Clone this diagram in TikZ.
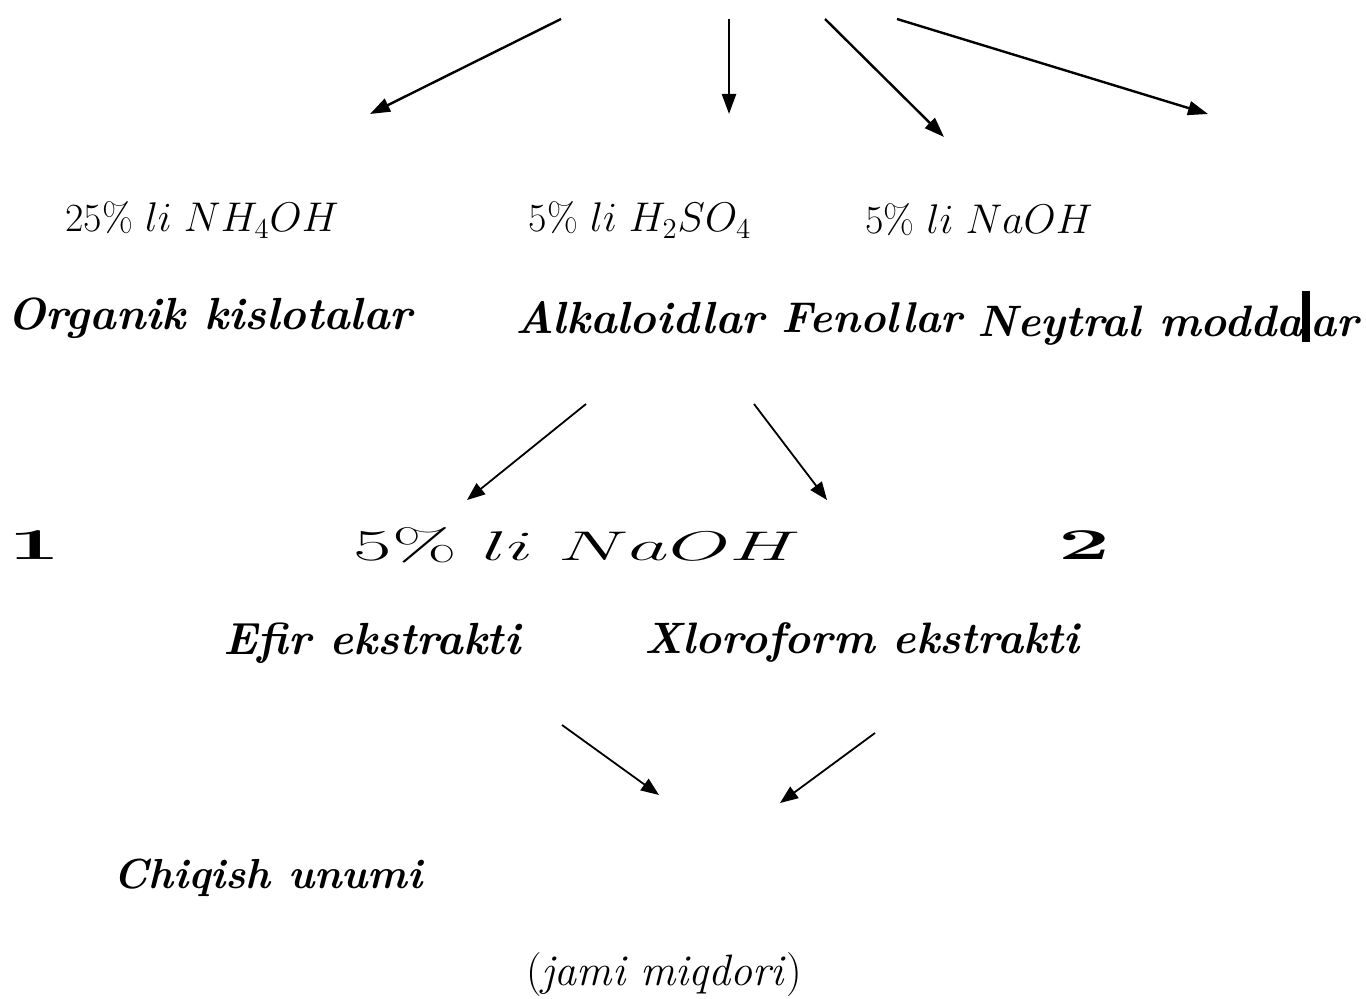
\documentclass[tikz,border=0pt]{standalone}
\usetikzlibrary{arrows.meta}
\tikzset{
	reagent/.style={inner sep=0pt,font=\fontsize{20}{24}\selectfont},
	group/.style={inner sep=0pt,font=\fontsize{22.5}{27}\selectfont\bfseries\itshape},
	big/.style={inner sep=0pt,font=\fontsize{22}{26}\selectfont},
	flow/.style={-{Triangle[length=10pt,width=7pt]},line width=1.2pt},
	thinflow/.style={-{Triangle[length=9pt,width=7pt]},line width=0.9pt}
}
\begin{document}
\begin{tikzpicture}[x=0.5pt,y=-0.5pt]
		\useasboundingbox (0,0) rectangle (1366,999);
		% top fan of arrows
		\coordinate (t1) at (561,19);
		\coordinate (t2) at (729,19);
		\coordinate (t3) at (825,19);
		\coordinate (t4) at (897,19);
		\coordinate (h1) at (370,114);
		\coordinate (h2) at (729,114);
		\coordinate (h3) at (944,137);
		\coordinate (h4) at (1208,114);
		\draw[flow] (t1) -- (h1);
		\draw[flow] (t2) -- (h2);
		\draw[flow] (t3) -- (h3);
		\draw[flow] (t4) -- (h4);
		\node[reagent] (nh) at (202,220) {25\% $li\ NH_4OH$};
		\node[reagent] (hs) at (640,220) {5\% $li\ H_2SO_4$};
		\node[reagent] (na) at (979,220) {5\% $li\ NaOH$};
		\node[group] (org) at (210,318) {Organik kislotalar};
		\node[group] (alk) at (640,318) {Alkaloidlar};
		\node[group,font=\fontsize{21.5}{26}\selectfont\bfseries\itshape] (fen) at (872,318) {Fenollar};
		\node[group,font=\fontsize{22}{26}\selectfont\bfseries\itshape] (ney) at (1168,318) {Neytral modda\rule[-0.3ex]{4pt}{2.6ex}ar};
		% alkaloid split
		\coordinate (s1) at (586,404);
		\coordinate (s2) at (754,404);
		\coordinate (e1) at (467,500);
		\coordinate (e2) at (827,500);
		\draw[thinflow] (s1) -- (e1);
		\draw[thinflow] (s2) -- (e2);
		\node[big,font=\fontsize{22}{26}\selectfont\bfseries] (one) at (35,545) {\scalebox{2.1}[1]{1}};
		\node[big] (naoh) at (577,545) {\scalebox{1.9}[1]{5\% $li\ NaOH$}};
		\node[big,font=\fontsize{22}{26}\selectfont\bfseries] (two) at (1085,545) {\scalebox{2.1}[1]{2}};
		\node[group] (efir) at (372,643) {Efir ekstrakti};
		\node[group,font=\fontsize{22}{26}\selectfont\bfseries\itshape] (xlor) at (862,643) {Xloroform ekstrakti};
		% both extracts join
		\coordinate (j1) at (562,725);
		\coordinate (j2) at (875,733);
		\coordinate (k1) at (659,795);
		\coordinate (k2) at (780,803);
		\draw[thinflow] (j1) -- (k1);
		\draw[thinflow] (j2) -- (k2);
		\node[group,font=\fontsize{21}{25}\selectfont\bfseries\itshape] (chiq) at (268,878) {Chiqish unumi};
		\node[big] (jami) at (664,975) {(\textit{jami miqdori})};
	\end{tikzpicture}
\end{document}
